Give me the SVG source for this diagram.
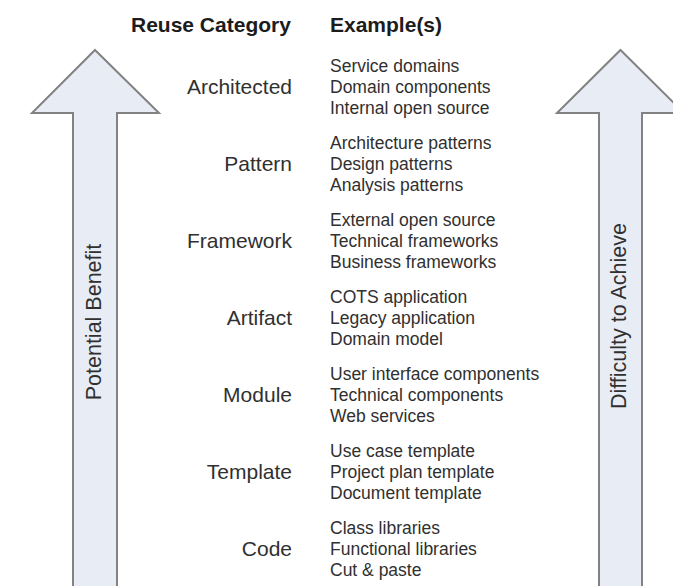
<svg xmlns="http://www.w3.org/2000/svg" width="673" height="586" viewBox="0 0 673 586">
<style>
.arrow{fill:#e8ecf5;stroke:#828282;stroke-width:2;stroke-linejoin:miter}
text{font-family:"Liberation Sans",Arial,sans-serif;fill:#303030}
.hdr{font-size:21px;font-weight:bold;fill:#1c1c1c}
.cat{font-size:21px;text-anchor:end}
.ex{font-size:17.5px}
.side{font-size:21.5px;text-anchor:middle}
</style>
<rect width="673" height="586" fill="#ffffff"/>
<g id="arrows">
<g id="benefit-arrow">
<path class="arrow" d="M95,50 L159,113 L117,113 L117,600 L73,600 L73,113 L32,113 Z"/>
<text class="side" transform="translate(101,322) rotate(-90)">Potential Benefit</text>
</g>
<g id="difficulty-arrow">
<path class="arrow" d="M620.5,50 L684,113 L642,113 L642,600 L599,600 L599,113 L557,113 Z"/>
<text class="side" transform="translate(626,316) rotate(-90)">Difficulty to Achieve</text>
</g>
</g>
<g id="header">
<text class="hdr" x="131" y="32">Reuse Category</text>
<text class="hdr" x="330" y="32">Example(s)</text>
</g>
<g id="architected">
<text class="cat" x="292" y="94">Architected</text>
<text class="ex" x="330" y="72">Service domains</text>
<text class="ex" x="330" y="93">Domain components</text>
<text class="ex" x="330" y="114">Internal open source</text>
</g>
<g id="pattern">
<text class="cat" x="292" y="171">Pattern</text>
<text class="ex" x="330" y="149">Architecture patterns</text>
<text class="ex" x="330" y="170">Design patterns</text>
<text class="ex" x="330" y="191">Analysis patterns</text>
</g>
<g id="framework">
<text class="cat" x="292" y="248">Framework</text>
<text class="ex" x="330" y="226">External open source</text>
<text class="ex" x="330" y="247">Technical frameworks</text>
<text class="ex" x="330" y="268">Business frameworks</text>
</g>
<g id="artifact">
<text class="cat" x="292" y="325">Artifact</text>
<text class="ex" x="330" y="303">COTS application</text>
<text class="ex" x="330" y="324">Legacy application</text>
<text class="ex" x="330" y="345">Domain model</text>
</g>
<g id="module">
<text class="cat" x="292" y="402">Module</text>
<text class="ex" x="330" y="380">User interface components</text>
<text class="ex" x="330" y="401">Technical components</text>
<text class="ex" x="330" y="422">Web services</text>
</g>
<g id="template">
<text class="cat" x="292" y="479">Template</text>
<text class="ex" x="330" y="457">Use case template</text>
<text class="ex" x="330" y="478">Project plan template</text>
<text class="ex" x="330" y="499">Document template</text>
</g>
<g id="code">
<text class="cat" x="292" y="556">Code</text>
<text class="ex" x="330" y="534">Class libraries</text>
<text class="ex" x="330" y="555">Functional libraries</text>
<text class="ex" x="330" y="576">Cut &amp; paste</text>
</g>
</svg>
